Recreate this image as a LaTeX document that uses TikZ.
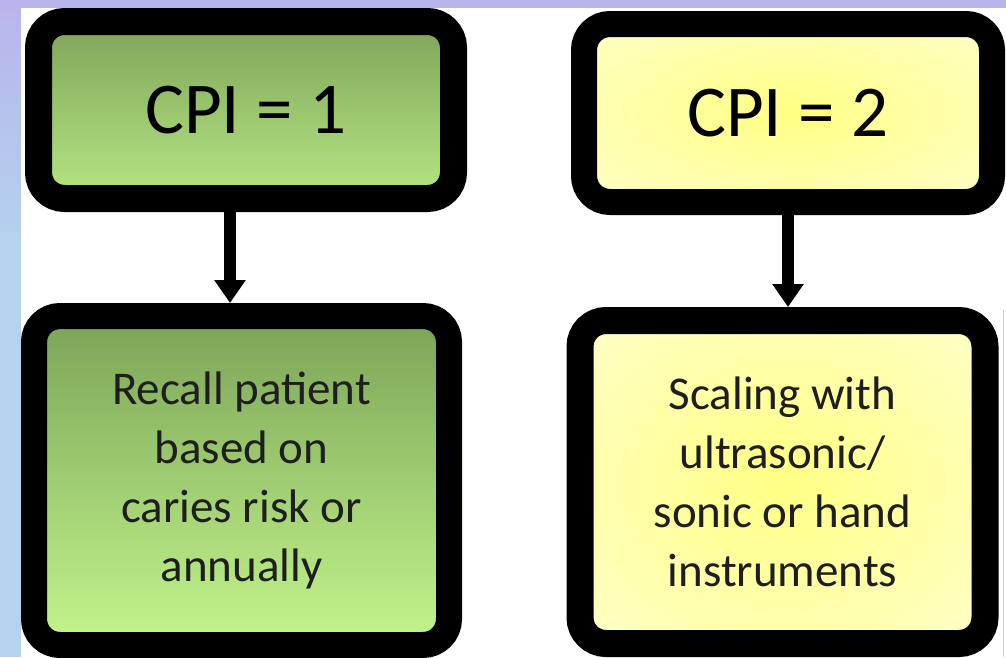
\documentclass[tikz,border=0pt]{standalone}
\usepackage{fontspec}
\setmainfont{Carlito}
\usetikzlibrary{arrows.meta}
\definecolor{lav}{HTML}{B9B4EC}
\definecolor{lblue}{HTML}{B4D2EE}
\definecolor{gtopA}{HTML}{7EA459}
\definecolor{gbotA}{HTML}{B6E682}
\definecolor{gtopB}{HTML}{7BA356}
\definecolor{gbotB}{HTML}{C3F68D}
\definecolor{ycen}{HTML}{FFFF84}
\definecolor{yedge}{HTML}{FFFFD2}
\definecolor{txt}{HTML}{1E1E1E}
\pgfdeclareradialshading{yglow}{\pgfpoint{0bp}{0bp}}{color(0bp)=(ycen); color(40bp)=(yedge); color(50bp)=(yedge)}
\newcommand\cpifont{\fontsize{73}{88}\selectfont}
\newcommand\bodyfont{\fontsize{47}{59}\selectfont}
\begin{document}
\begin{tikzpicture}[x=1pt,y=-1pt,
  boxbase/.style={draw=black, rounded corners=26pt, inner sep=0pt, align=center},
  greenA/.style={boxbase, top color=gtopA, bottom color=gbotA},
  greenB/.style={boxbase, top color=gtopB, bottom color=gbotB},
  yellowbox/.style={boxbase, shade, shading=yglow},
  cpitext/.style={font=\cpifont, text=black},
  bodytext/.style={font=\bodyfont, text=txt},
  arr/.style={line width=12pt, draw=black, -{Triangle[width=30pt,length=23pt]}}]
\useasboundingbox (0,0) rectangle (1006,657);
% background
\fill[lblue] (0,0) rectangle (1006,657);
\shade[top color=lav, bottom color=lblue] (0,0) rectangle (21,240);
\fill[lav] (0,0) rectangle (1006,7.5);
\fill[white] (21,7.5) rectangle (1006,657);
\draw[lblue, line width=1.5pt] (1003.5,310) -- (1003.5,657);
% boxes
\node[greenA, cpitext, line width=27pt, minimum width=415pt, minimum height=177pt] (b1) at (246,110) {CPI = 1};
\node[yellowbox, cpitext, line width=26pt, minimum width=408pt, minimum height=178pt] (b2) at (788,113) {CPI = 2};
\node[greenB, bodytext, line width=26pt, minimum width=415pt, minimum height=329pt] (b3) at (241.5,480.5) {Recall patient\\based on\\caries risk or\\annually};
\node[yellowbox, bodytext, line width=27pt, minimum width=405pt, minimum height=323pt] (b4) at (782.5,482) {Scaling with\\ultrasonic/\\sonic or hand\\instruments};
% arrows
\coordinate (ax1) at (230,0);
\coordinate (ax2) at (788,0);
\draw[arr] (ax1 |- b1.south) -- (ax1 |- b3.north);
\draw[arr] (ax2 |- b2.south) -- (ax2 |- b4.north);
\end{tikzpicture}
\end{document}
